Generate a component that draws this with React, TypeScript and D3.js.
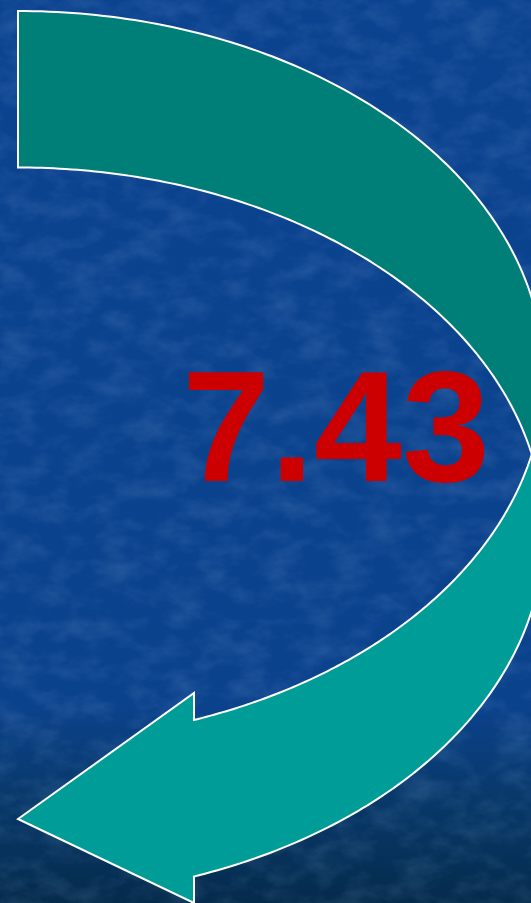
import React, { useEffect } from "react";
import * as d3 from "d3";

// ---- content ----
const labels = ["7.43"];
const bandNames = ["back", "front"];

// ---- layout ----
const W = 531;
const H = 903;
const LEFT = 18; // shared ellipse centre x / left edge of the ribbon
const RX = 526;
const RY = 365;
const CY = [376, 532.5]; // ellipse A (outer/back), ellipse B (inner/front)
const HEAD_X = 194;
const HEAD_TOP = 693;
const HEAD_BOTTOM = 903;
const TIP_Y = 819;

const colors = {
  back: "#007F78",
  front: "#009C98",
  text: "#CC0000",
  stroke: "#FFFFFF",
};

const x = d3.scaleLinear().domain([-1, 1]).range([LEFT - RX, LEFT + RX]);
const yA = d3.scaleLinear().domain([-1, 1]).range([CY[0] - RY, CY[0] + RY]);
const yB = d3.scaleLinear().domain([-1, 1]).range([CY[1] - RY, CY[1] + RY]);

function arcPts(ys: d3.ScaleLinear<number, number>, t0: number, t1: number): [number, number][] {
  const n = 120;
  return d3.range(n + 1).map((i) => {
    const t = t0 + ((t1 - t0) * i) / n;
    return [x(Math.cos(t)), ys(Math.sin(t))] as [number, number];
  });
}

export default function App() {
  useEffect(() => {
    document.body.style.margin = "0";
  }, []);

  const yP = (CY[0] + CY[1]) / 2;
  const tA = Math.asin((yP - CY[0]) / RY);
  const tB = Math.asin((yP - CY[1]) / RY);
  const tNotch = Math.acos((HEAD_X - LEFT) / RX);

  const line = d3.line();

  const backPts: [number, number][] = [
    ...arcPts(yA, -Math.PI / 2, tA),
    ...arcPts(yB, tB, -Math.PI / 2),
  ];
  const backPath = line(backPts) + "Z";

  const frontPts: [number, number][] = [
    ...arcPts(yA, tNotch, tA),
    ...arcPts(yB, tB, tNotch),
    [HEAD_X, HEAD_BOTTOM],
    [LEFT, TIP_Y],
    [HEAD_X, HEAD_TOP],
  ];
  const frontPath = line(frontPts) + "Z";

  return (
    <svg width={W} height={H} style={{ display: "block", position: "absolute", left: 0, top: 0 }}>
      <defs>
        <linearGradient id="bg" x1="0" y1="0" x2="0" y2="1">
          <stop offset="0" stopColor="#0C4390" />
          <stop offset="0.78" stopColor="#0B428C" />
          <stop offset="0.88" stopColor="#08396B" />
          <stop offset="1" stopColor="#052B4C" />
        </linearGradient>
        <filter id="tex" x="0" y="0" width="100%" height="100%">
          <feTurbulence type="fractalNoise" baseFrequency="0.03 0.05" numOctaves="4" seed="3" result="n" />
          <feColorMatrix
            in="n"
            type="matrix"
            values="0 0 0 0 0.3  0 0 0 0 0.5  0 0 0 0 0.8  0 0 0 1.4 -0.55"
          />
        </filter>
      </defs>
      <rect width={W} height={H} fill="url(#bg)" />
      <rect width={W} height={H} filter="url(#tex)" opacity={0.22} />
      <path d={backPath} fill={colors.back} stroke={colors.stroke} strokeWidth={2} data-band={bandNames[0]} />
      <path d={frontPath} fill={colors.front} stroke={colors.stroke} strokeWidth={2} data-band={bandNames[1]} />
      {labels.map((l) => (
        <text
          key={l}
          x={336}
          y={481}
          textAnchor="middle"
          fill={colors.text}
          fontFamily="'Liberation Sans', Arial, sans-serif"
          fontWeight="bold"
          fontSize={158}
        >
          {l}
        </text>
      ))}
    </svg>
  );
}
